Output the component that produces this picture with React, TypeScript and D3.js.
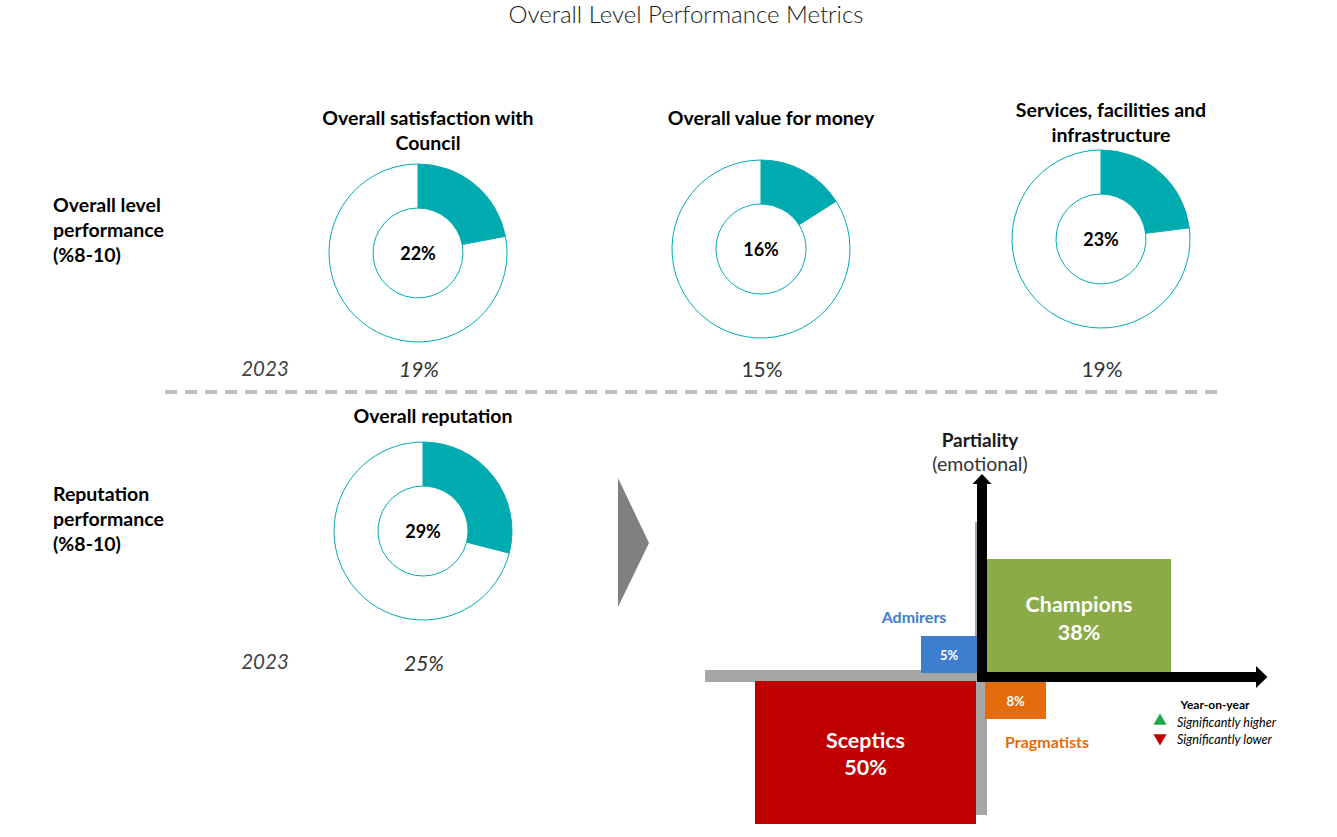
import React from "react";
import * as d3 from "d3";

// ---------- DATA ----------
const donutTitles: string[][] = [
  ["Overall satisfaction with", "Council"],
  ["Overall value for money"],
  ["Services, facilities and", "infrastructure"],
  ["Overall reputation"],
];
const donutValues: number[] = [22, 16, 23, 29];
const priorValues: number[] = [19, 15, 19, 25];
const priorItalic: boolean[] = [true, false, false, true];
const priorYear = "2023";
const rowLabels: string[][] = [
  ["Overall level", "performance", "(%8-10)"],
  ["Reputation", "performance", "(%8-10)"],
];
const segmentNames: string[] = ["Champions", "Admirers", "Pragmatists", "Sceptics"];
const segmentValues: number[] = [38, 5, 8, 50];
const legendTitle = "Year-on-year";
const legendItems: string[] = ["Significantly higher", "Significantly lower"];

// ---------- LAYOUT ----------
const W = 1337;
const H = 837;
const FONT = "Lato, 'Open Sans', sans-serif";
const TEAL = "#00ABB0";
const donutCenters = [
  { cx: 418, cy: 253, titleY: 117, priorY: 368 },
  { cx: 761, cy: 249, titleY: 117, priorY: 368 },
  { cx: 1101, cy: 239, titleY: 109, priorY: 368 },
  { cx: 423, cy: 531, titleY: 415, priorY: 662 },
];
const OUTER = 89;
const INNER = 45;

const segColors = ["#8AAB47", "#3E7ECF", "#E46C0A", "#C00000"];
// quadrant box layout (x0, y0, x1, y1)
const segBoxes = [
  [987, 559, 1171, 672],
  [921, 636, 977, 673],
  [985, 682, 1046, 719],
  [755, 681, 976, 824],
];

function Donut({ i }: { i: number }) {
  const c = donutCenters[i];
  const v = donutValues[i];
  const pie = d3.pie<number>().sort(null)([v, 100 - v]);
  const arc = d3.arc<d3.PieArcDatum<number>>().innerRadius(INNER).outerRadius(OUTER);
  const titleLines = donutTitles[i];
  return (
    <g>
      {titleLines.map((t, k) => (
        <text
          key={k}
          x={c.cx + 10}
          y={c.titleY + k * 25}
          textAnchor="middle"
          dominantBaseline="central"
          fontFamily={FONT}
          fontWeight={700}
          fontSize={19.5}
          fill="#000"
        >
          {t}
        </text>
      ))}
      <g transform={`translate(${c.cx},${c.cy})`}>
        {pie.map((p, k) => (
          <path key={k} d={arc(p) || ""} fill={k === 0 ? TEAL : "#fff"} stroke={TEAL} strokeWidth={1} />
        ))}
        <text
          textAnchor="middle"
          dominantBaseline="central"
          fontFamily={FONT}
          fontWeight={700}
          fontSize={18}
          fill="#000"
        >
          {`${v}%`}
        </text>
      </g>
      <text
        x={c.cx + 1}
        y={c.priorY}
        textAnchor="middle"
        dominantBaseline="central"
        fontFamily={FONT}
        fontStyle={priorItalic[i] ? "italic" : "normal"}
        fontSize={21}
        fill="#333"
      >
        {`${priorValues[i]}%`}
      </text>
    </g>
  );
}

export default function App() {
  const rowLabelY = [204, 493];
  const tri = d3.symbol().type(d3.symbolTriangle).size(75)() || "";
  return (
    <svg
      width={W}
      height={H}
      style={{ position: "absolute", left: 0, top: 0, background: "#fff" }}
    >
      <rect width={W} height={H} fill="#fff" />
      <text
        x={686}
        y={13}
        textAnchor="middle"
        dominantBaseline="central"
        fontFamily={FONT}
        fontWeight={300}
        fontSize={24}
        fill="#1a1a1a"
      >
        Overall Level Performance Metrics
      </text>

      {rowLabels.map((lines, r) =>
        lines.map((t, k) => (
          <text
            key={`${r}-${k}`}
            x={53}
            y={rowLabelY[r] + k * 25}
            dominantBaseline="central"
            fontFamily={FONT}
            fontWeight={700}
            fontSize={19.5}
            fill="#000"
          >
            {t}
          </text>
        ))
      )}

      {[368, 661].map((y, k) => (
        <text
          key={k}
          x={265}
          y={y}
          textAnchor="middle"
          dominantBaseline="central"
          fontFamily={FONT}
          fontStyle="italic"
          fontSize={20.5}
          fill="#444"
        >
          {priorYear}
        </text>
      ))}

      {donutValues.map((_, i) => (
        <Donut key={i} i={i} />
      ))}

      <line x1={165} x2={1218} y1={392} y2={392} stroke="#BFBFBF" strokeWidth={4} strokeDasharray="12 8" />

      {/* grey arrow */}
      <path d="M618,478 L649,543 L618,607 Z" fill="#808080" />

      {/* quadrant */}
      <rect x={705} y={670} width={282} height={12} fill="#A6A6A6" />
      <rect x={975} y={522} width={12} height={293} fill="#A6A6A6" />
      {segBoxes.map((b, i) => (
        <rect key={i} x={b[0]} y={b[1]} width={b[2] - b[0]} height={b[3] - b[1]} fill={segColors[i]} />
      ))}
      {/* black axes */}
      <rect x={977} y={483} width={10} height={199} fill="#000" />
      <path d="M972.5,484 L982,474 L991.5,484 Z" fill="#000" />
      <rect x={977} y={672} width={280} height={10} fill="#000" />
      <path d="M1256,666 L1267.5,677 L1256,688 Z" fill="#000" />

      <text x={980} y={439} textAnchor="middle" dominantBaseline="central" fontFamily={FONT} fontWeight={700} fontSize={19} fill="#1a1a1a">
        Partiality
      </text>
      <text x={980} y={463} textAnchor="middle" dominantBaseline="central" fontFamily={FONT} fontSize={19.5} fill="#333">
        (emotional)
      </text>

      {/* Champions */}
      <text x={(segBoxes[0][0] + segBoxes[0][2]) / 2} y={604} textAnchor="middle" dominantBaseline="central" fontFamily={FONT} fontWeight={700} fontSize={21.5} fill="#fff">
        {segmentNames[0]}
      </text>
      <text x={(segBoxes[0][0] + segBoxes[0][2]) / 2} y={632} textAnchor="middle" dominantBaseline="central" fontFamily={FONT} fontWeight={700} fontSize={21.5} fill="#fff">
        {`${segmentValues[0]}%`}
      </text>
      {/* Sceptics */}
      <text x={(segBoxes[3][0] + segBoxes[3][2]) / 2} y={740} textAnchor="middle" dominantBaseline="central" fontFamily={FONT} fontWeight={700} fontSize={21.5} fill="#fff">
        {segmentNames[3]}
      </text>
      <text x={(segBoxes[3][0] + segBoxes[3][2]) / 2} y={767} textAnchor="middle" dominantBaseline="central" fontFamily={FONT} fontWeight={700} fontSize={21.5} fill="#fff">
        {`${segmentValues[3]}%`}
      </text>
      {/* Admirers */}
      <text x={(segBoxes[1][0] + segBoxes[1][2]) / 2} y={655} textAnchor="middle" dominantBaseline="central" fontFamily={FONT} fontWeight={700} fontSize={13} fill="#fff">
        {`${segmentValues[1]}%`}
      </text>
      <text x={914} y={616} textAnchor="middle" dominantBaseline="central" fontFamily={FONT} fontWeight={700} fontSize={16} fill={segColors[1]}>
        {segmentNames[1]}
      </text>
      {/* Pragmatists */}
      <text x={(segBoxes[2][0] + segBoxes[2][2]) / 2} y={701} textAnchor="middle" dominantBaseline="central" fontFamily={FONT} fontWeight={700} fontSize={13} fill="#fff">
        {`${segmentValues[2]}%`}
      </text>
      <text x={1047} y={741} textAnchor="middle" dominantBaseline="central" fontFamily={FONT} fontWeight={700} fontSize={16} fill={segColors[2]}>
        {segmentNames[2]}
      </text>

      {/* legend */}
      <text x={1215} y={704} textAnchor="middle" dominantBaseline="central" fontFamily={FONT} fontWeight={700} fontSize={12} fill="#000">
        {legendTitle}
      </text>
      <path d={tri} transform="translate(1160,721)" fill="#1EA84A" />
      <path d={tri} transform="translate(1160,738) rotate(180)" fill="#C00000" />
      {legendItems.map((t, k) => (
        <text key={k} x={1177} y={722 + k * 17} dominantBaseline="central" fontFamily={FONT} fontStyle="italic" fontSize={12.6} fill="#000">
          {t}
        </text>
      ))}
    </svg>
  );
}
